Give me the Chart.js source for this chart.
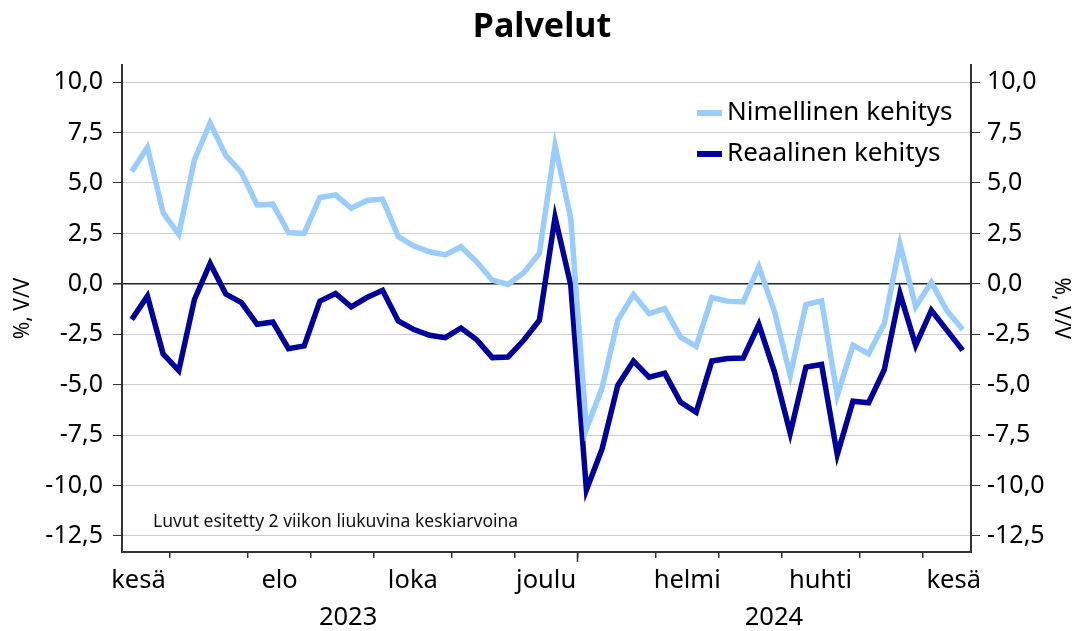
<!DOCTYPE html>
<html><head><meta charset="utf-8">
<script src="https://cdn.jsdelivr.net/npm/chart.js@4"></script>
<style>html,body{margin:0;padding:0;background:#fff}#wrap{width:1084px;height:631px}</style>
</head><body><div id="wrap"><canvas id="c" width="1084" height="631"></canvas></div>
<script>
const chartTitle = 'Palvelut';
const seriesNames = ['Nimellinen kehitys', 'Reaalinen kehitys'];
const nominal = [5.57, 6.77, 3.53, 2.45, 6.15, 7.98, 6.37, 5.52, 3.91, 3.95,
  2.54, 2.50, 4.28, 4.41, 3.75, 4.13, 4.20, 2.34, 1.87, 1.59,
  1.43, 1.84, 1.09, 0.18, -0.03, 0.55, 1.51, 6.85, 3.25, -7.20,
  -5.16, -1.81, -0.53, -1.48, -1.23, -2.64, -3.10, -0.68, -0.86, -0.90,
  0.85, -1.39, -4.54, -1.03, -0.85, -5.54, -3.05, -3.47, -1.97, 1.97,
  -1.14, 0.07, -1.34, -2.27];
const real = [-1.77, -0.61, -3.47, -4.30, -0.78, 1.01, -0.51, -0.93, -2.01, -1.89,
  -3.22, -3.08, -0.86, -0.48, -1.14, -0.68, -0.32, -1.84, -2.27, -2.55,
  -2.67, -2.19, -2.77, -3.66, -3.63, -2.80, -1.81, 3.30, -0.05, -10.23,
  -8.19, -5.04, -3.83, -4.63, -4.43, -5.87, -6.37, -3.83, -3.71, -3.68,
  -2.02, -4.38, -7.41, -4.13, -4.00, -8.47, -5.82, -5.90, -4.26, -0.48,
  -3.05, -1.31, -2.31, -3.30];
const weekIndex = nominal.map((_, i) => i);
const yTicks = [10, 7.5, 5, 2.5, 0, -2.5, -5, -7.5, -10, -12.5];
const monthBoundaries = [2.43, 7.43, 11.43, 15.43, 20.43, 24.43, 28.43, 33.43, 37.43, 41.43, 46.43, 50.43];
const monthLabels = ['kesä', 'elo', 'loka', 'joulu', 'helmi', 'huhti', 'kesä'];
const monthLabelPos = [0.43, 9.43, 17.93, 26.43, 35.43, 43.93, 52.43];
const yearLabels = ['2023', '2024'];
const yearLabelPos = [13.8, 40.96];
const yearBoundary = 28.43;
const axisTitle = '%, V/V';
const note = 'Luvut esitetty 2 viikon liukuvina keskiarvoina';

const FONT = '"Noto Sans", "DejaVu Sans", sans-serif';
const LIGHT = '#99ccff';
const DARK = '#00009c';

const xTickValues = [...monthBoundaries, ...monthLabelPos, ...yearLabelPos].sort((a, b) => a - b);

function xLabel(v) {
  const m = monthLabelPos.indexOf(v);
  if (m >= 0) return monthLabels[m];
  const y = yearLabelPos.indexOf(v);
  if (y >= 0) return ['', yearLabels[y]];
  return '';
}
const fmt = v => v.toFixed(1).replace('.', ',');

const extras = {
  id: 'extras',
  afterDraw(chart) {
    const ctx = chart.ctx;
    const xs = chart.scales.x;
    const area = chart.chartArea;
    ctx.save();
    const px = xs.getPixelForValue(yearBoundary);
    ctx.strokeStyle = '#333';
    ctx.lineWidth = 1.5;
    ctx.beginPath();
    ctx.moveTo(px, area.bottom);
    ctx.lineTo(px, area.bottom + 10);
    ctx.stroke();
    ctx.font = '26px ' + FONT;
    ctx.textBaseline = 'middle';
    ctx.textAlign = 'left';
    chart.data.datasets.forEach((ds, i) => {
      const y = 113 + i * 41;
      ctx.fillStyle = ds.borderColor;
      ctx.fillRect(697, y - 3, 25, 6);
      ctx.fillStyle = '#000';
      ctx.fillText(ds.label, 727, y);
    });
    ctx.font = '17.5px ' + FONT;
    ctx.textBaseline = 'alphabetic';
    ctx.fillStyle = '#111';
    ctx.fillText(note, 153, 527);
    ctx.restore();
  }
};

new Chart(document.getElementById('c'), {
  type: 'line',
  data: {
    datasets: [
      { label: seriesNames[0], data: nominal.map((v, i) => ({ x: weekIndex[i], y: v })),
        borderColor: LIGHT, backgroundColor: LIGHT, borderWidth: 5.5, pointRadius: 0, tension: 0, yAxisID: 'y' },
      { label: seriesNames[1], data: real.map((v, i) => ({ x: weekIndex[i], y: v })),
        borderColor: DARK, backgroundColor: DARK, borderWidth: 5.5, pointRadius: 0, tension: 0, yAxisID: 'y' }
    ]
  },
  options: {
    responsive: false,
    animation: false,
    devicePixelRatio: 1,
    layout: { padding: 0 },
    plugins: {
      legend: { display: false },
      tooltip: { enabled: false },
      title: {
        display: true, text: chartTitle, color: '#000',
        font: { family: FONT, size: 34, weight: 'bold', lineHeight: 1.2 },
        padding: { top: 7, bottom: 17 }
      }
    },
    scales: {
      x: {
        type: 'linear', position: 'bottom', min: -0.62, max: 53.53,
        afterBuildTicks: s => { s.ticks = xTickValues.map(v => ({ value: v })); },
        afterFit: s => { s.height = 79; },
        ticks: {
          autoSkip: false, maxRotation: 0, minRotation: 0, padding: 4, color: '#000',
          font: { family: FONT, size: 25.5, lineHeight: 1.45 },
          callback: v => xLabel(v)
        },
        grid: {
          drawOnChartArea: false, tickLength: 6, lineWidth: 1.5,
          tickColor: c => monthBoundaries.includes(c.tick.value) ? '#333' : 'rgba(0,0,0,0)'
        },
        border: { color: '#333', width: 2 }
      },
      y: {
        position: 'left', min: -13.3, max: 10.86,
        afterBuildTicks: s => { s.ticks = yTicks.map(v => ({ value: v })); },
        afterFit: s => { s.width = 122; },
        ticks: { padding: 10, color: '#000', font: { family: FONT, size: 25 }, callback: v => fmt(v) },
        grid: {
          tickLength: 9, tickColor: '#333',
          color: c => (c.tick && c.tick.value === 0) ? '#222' : '#cccccc',
          lineWidth: c => (c.tick && c.tick.value === 0) ? 1.6 : 1
        },
        border: { color: '#333', width: 2 },
        title: { display: true, text: axisTitle, color: '#000', font: { family: FONT, size: 21 }, padding: { top: 10, bottom: 0 } }
      },
      y2: {
        position: 'right', min: -13.3, max: 10.86,
        afterBuildTicks: s => { s.ticks = yTicks.map(v => ({ value: v })); },
        afterFit: s => { s.width = 113; },
        ticks: { padding: 7, color: '#000', font: { family: FONT, size: 25 }, callback: v => fmt(v) },
        grid: { drawOnChartArea: false, tickLength: 9, tickColor: '#333' },
        border: { color: '#333', width: 2 },
        title: { display: true, text: axisTitle, color: '#000', font: { family: FONT, size: 21 }, padding: { top: 10, bottom: 0 } }
      }
    }
  },
  plugins: [extras]
});
</script></body></html>
